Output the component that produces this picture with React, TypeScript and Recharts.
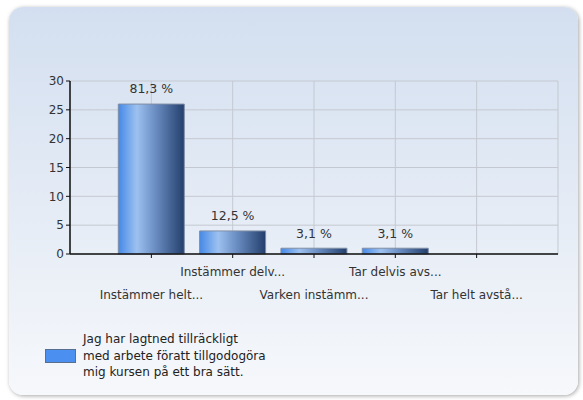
import React from "react";
import { BarChart, Bar, XAxis, YAxis, CartesianGrid, LabelList } from "recharts";

const categories = ["Instämmer helt...", "Instämmer delv...", "Varken instämm...", "Tar delvis avs...", "Tar helt avstå..."];
const counts = [26, 4, 1, 1, 0];
const percentLabels = ["81,3 %", "12,5 %", "3,1 %", "3,1 %", ""];
const yTicks = [0, 5, 10, 15, 20, 25, 30];
const seriesName = "Jag har lagtned tillräckligt med arbete föratt tillgodogöra mig kursen på ett bra sätt.";
const legendLines = ["Jag har lagtned tillräckligt", "med arbete föratt tillgodogöra", "mig kursen på ett bra sätt."];

const data = categories.map((c, i) => ({ name: c, value: counts[i], label: percentLabels[i] }));

const FONT = "'DejaVu Sans', Verdana, sans-serif";

const XTick = (props: any) => {
  const { x, y, payload, index } = props;
  const dy = index % 2 === 0 ? 39 : 16;
  return (
    <text x={x} y={y + dy - 4} dy="0.35em" textAnchor="middle" fontFamily={FONT} fontSize={12} fill="#333">
      {payload.value}
    </text>
  );
};

const BarLabel = (props: any) => {
  const { x, y, width, value } = props;
  if (!value) return null;
  return (
    <text x={x + width / 2} y={y - 15} dy="0.35em" textAnchor="middle" fontFamily={FONT} fontSize={12.5} fill="#333">
      {value}
    </text>
  );
};

export default function App() {
  return (
    <div style={{ position: "absolute", left: 0, top: 0, width: 583, height: 400, background: "#fff", overflow: "hidden" }}>
      <div
        style={{
          position: "absolute",
          left: 9,
          top: 7,
          width: 569,
          height: 388,
          borderRadius: 14,
          background: "linear-gradient(to bottom, #d3dff0 0%, #e4ebf5 50%, #f6f8fb 100%)",
          boxShadow: "1px 1px 4px rgba(0,0,0,0.35)",
        }}
      />
      <div style={{ position: "absolute", left: 0, top: 0 }}>
        <BarChart width={583} height={400} data={data} margin={{ top: 81, right: 25, bottom: 106, left: 30 }} barCategoryGap={7.6}>
          <defs>
            <linearGradient id="barGrad" x1="0" y1="0" x2="1" y2="0">
              <stop offset="0%" stopColor="#4589e8" />
              <stop offset="28%" stopColor="#9dc1f0" />
              <stop offset="55%" stopColor="#6c8fc4" />
              <stop offset="100%" stopColor="#233f6c" />
            </linearGradient>
          </defs>
          <CartesianGrid stroke="#c4c9d1" strokeWidth={1} />
          <XAxis
            dataKey="name"
            interval={0}
            height={40}
            padding={{ left: 40.7, right: 40.7 }}
            axisLine={{ stroke: "#111", strokeWidth: 1.5 }}
            tickLine={{ stroke: "#111" }}
            tickSize={4}
            tick={<XTick />}
          />
          <YAxis
            domain={[0, 30]}
            ticks={yTicks}
            width={40}
            interval={0}
            axisLine={{ stroke: "#111", strokeWidth: 1.5 }}
            tickLine={{ stroke: "#111" }}
            tickSize={4}
            tick={{ fontFamily: FONT, fontSize: 12, fill: "#333" }}
          />
          <YAxis
            yAxisId="right"
            orientation="right"
            width={0}
            domain={[0, 30]}
            tick={false}
            tickLine={false}
            axisLine={{ stroke: "#c4c9d1", strokeWidth: 1 }}
          />
          <Bar dataKey="value" name={seriesName} fill="url(#barGrad)" stroke="#7f8ea6" strokeWidth={1} isAnimationActive={false}>
            <LabelList dataKey="label" content={<BarLabel />} />
          </Bar>
        </BarChart>
      </div>
      <div
        style={{
          position: "absolute",
          left: 45,
          top: 331,
          display: "flex",
          alignItems: "center",
          fontFamily: FONT,
          fontSize: 12,
          color: "#222",
        }}
      >
        <div style={{ width: 29, height: 12, background: "#4b8ff0", border: "1px solid #5a6f8f", marginRight: 7 }} />
        <div style={{ lineHeight: "16.5px" }}>
          {legendLines.map((l, i) => (
            <div key={i}>{l}</div>
          ))}
        </div>
      </div>
    </div>
  );
}
